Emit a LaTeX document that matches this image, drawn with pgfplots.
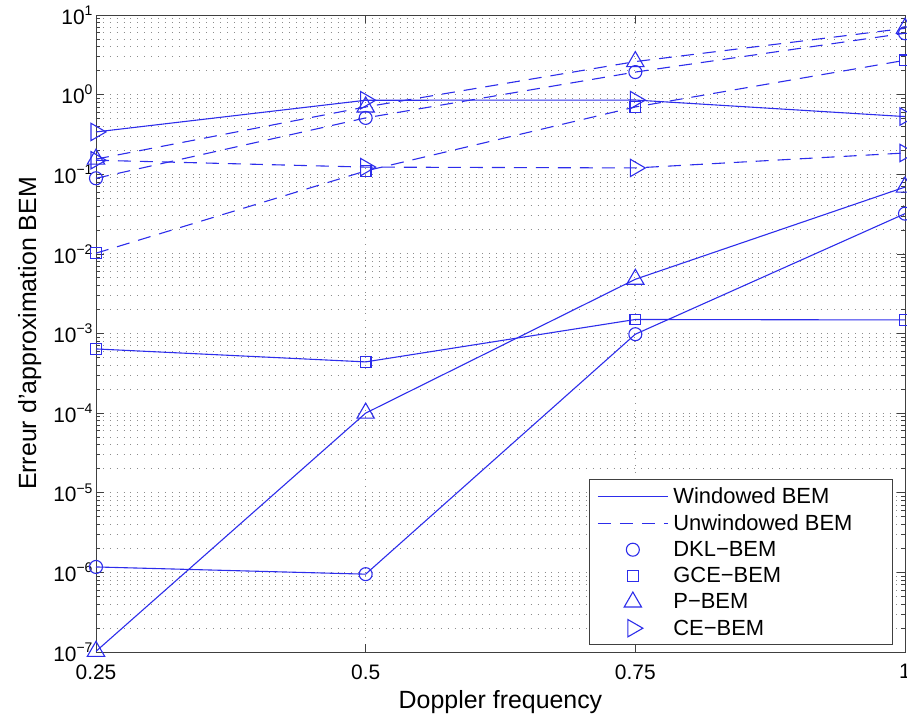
\documentclass[border=0pt]{standalone}
\usepackage{pgfplots}
\pgfplotsset{compat=1.18}
\usepackage{fontspec}
\setmainfont{Liberation Sans}
\definecolor{mblue}{RGB}{45,45,235}
\newcommand{\tp}[1]{10\raisebox{0.8ex}{\fontsize{14}{14}\selectfont #1}}
\begin{document}
\begin{tikzpicture}
\useasboundingbox (-96bp,-70bp) rectangle (811bp,652bp);
\begin{axis}[
  at={(0,0)}, anchor=south west,
  scale only axis, width=809bp, height=637bp,
  xmin=0.25, xmax=1, ymode=log, ymin=1e-7, ymax=1e1,
  xtick={0.25,0.5,0.75,1}, xticklabels={0.25,0.5,0.75,1},
  ytick={1e-7,1e-6,1e-5,1e-4,1e-3,1e-2,1e-1,1,10},
  yticklabels={\tp{−7},\tp{−6},\tp{−5},\tp{−4},\tp{−3},\tp{−2},\tp{−1},\tp{0},\tp{1}},
  minor ytick={2e-7,3e-7,4e-7,5e-7,6e-7,7e-7,8e-7,9e-7,
               2e-6,3e-6,4e-6,5e-6,6e-6,7e-6,8e-6,9e-6,
               2e-5,3e-5,4e-5,5e-5,6e-5,7e-5,8e-5,9e-5,
               2e-4,3e-4,4e-4,5e-4,6e-4,7e-4,8e-4,9e-4,
               2e-3,3e-3,4e-3,5e-3,6e-3,7e-3,8e-3,9e-3,
               2e-2,3e-2,4e-2,5e-2,6e-2,7e-2,8e-2,9e-2,
               0.2,0.3,0.4,0.5,0.6,0.7,0.8,0.9,
               2,3,4,5,6,7,8,9},
  tick align=inside, xtick pos=both, ytick pos=both,
  major tick length=8bp, minor tick length=4bp,
  tick style={black!75, line width=0.7bp},
  axis line style={black!75, line width=0.8bp},
  xmajorgrids, ymajorgrids, yminorgrids,
  major grid style={black!45, line width=0.9bp, dash pattern=on 0.9bp off 6bp},
  minor grid style={black!45, line width=0.9bp, dash pattern=on 0.9bp off 6bp},
  tick label style={font=\fontsize{21}{24}\selectfont},
  xticklabel style={yshift=-9bp},
  label style={font=\fontsize{25}{28}\selectfont},
  xlabel={Doppler frequency},
  ylabel={Erreur d'approximation BEM},
  xlabel style={at={(axis description cs:0.5,-0.0785)}, anchor=center},
  ylabel style={at={(axis description cs:-0.082,0.5)}, anchor=center},
  legend image code/.code={\draw[mark repeat=2,mark phase=2,#1] plot coordinates {(0bp,0bp) (35bp,0bp) (70bp,0bp)};},
  legend style={at={(axis description cs:0.985,0.011)}, anchor=south east,
    draw=black!75, line width=0.8bp, fill=white,
    font=\fontsize{22}{26}\selectfont, row sep=5.5bp,
    inner xsep=8bp, inner ysep=6bp},
  legend cell align=left,
  every axis plot/.append style={mblue, line width=1.1bp},
]
\addlegendimage{mblue, line width=1.1bp, solid}
\addlegendentry{\hspace*{3bp}Windowed BEM}
\addlegendimage{mblue, line width=1.1bp, dash pattern=on 13bp off 9bp}
\addlegendentry{\hspace*{3bp}Unwindowed BEM\hspace*{30bp}}
\addlegendimage{only marks, mblue, line width=1.1bp, mark=o, mark size=6.5bp}
\addlegendentry{\hspace*{3bp}DKL−BEM}
\addlegendimage{only marks, mblue, line width=1.1bp, mark=square, mark size=5.3bp}
\addlegendentry{\hspace*{3bp}GCE−BEM}
\addlegendimage{only marks, mblue, line width=1.1bp, mark=triangle, mark size=10bp}
\addlegendentry{\hspace*{3bp}P−BEM}
\addlegendimage{only marks, mblue, line width=1.1bp, mark=triangle, mark size=10bp, mark options={rotate=-90}}
\addlegendentry{\hspace*{3bp}CE−BEM}

% Windowed (solid)
\addplot[forget plot, mark=o, mark size=6.5bp] coordinates {(0.25,1.17e-6) (0.5,9.5e-7) (0.75,9.8e-4) (1,3.2e-2)};
\addplot[forget plot, mark=square, mark size=5.3bp] coordinates {(0.25,6.4e-4) (0.5,4.4e-4) (0.75,1.5e-3) (1,1.48e-3)};
\addplot[forget plot, mark=triangle, mark size=10bp] coordinates {(0.25,1.02e-7) (0.5,1.0e-4) (0.75,4.8e-3) (1,6.9e-2)};
\addplot[forget plot, mark=triangle, mark size=10bp, mark options={rotate=-90}] coordinates {(0.25,0.34) (0.5,0.85) (0.75,0.855) (1,0.53)};
% Unwindowed (dashed)
\addplot[forget plot, dash pattern=on 13bp off 9bp, mark=o, mark size=6.5bp, mark options={solid}] coordinates {(0.25,0.089) (0.5,0.51) (0.75,1.92) (1,5.9)};
\addplot[forget plot, dash pattern=on 13bp off 9bp, mark=square, mark size=5.3bp, mark options={solid}] coordinates {(0.25,0.0102) (0.5,0.11) (0.75,0.70) (1,2.7)};
\addplot[forget plot, dash pattern=on 13bp off 9bp, mark=triangle, mark size=10bp, mark options={solid}] coordinates {(0.25,0.155) (0.5,0.70) (0.75,2.6) (1,6.8)};
\addplot[forget plot, dash pattern=on 13bp off 9bp, mark=triangle, mark size=10bp, mark options={solid, rotate=-90}] coordinates {(0.25,0.15) (0.5,0.123) (0.75,0.12) (1,0.185)};
\end{axis}
\end{tikzpicture}
\end{document}
